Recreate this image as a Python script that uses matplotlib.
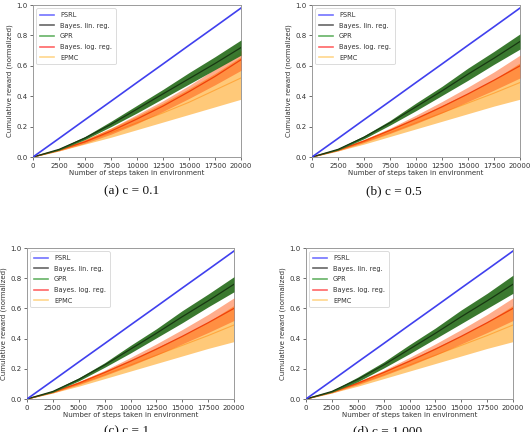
import matplotlib
matplotlib.use("Agg")
import matplotlib.pyplot as plt
from matplotlib.lines import Line2D

# ---------------- data ----------------
steps = [0, 2500, 5000, 7500, 10000, 12500, 15000, 17500, 20000]
x_ticks = [0, 2500, 5000, 7500, 10000, 12500, 15000, 17500, 20000]
y_ticks = [0.0, 0.2, 0.4, 0.6, 0.8, 1.0]
series_names = ["PSRL", "Bayes. lin. reg.", "GPR", "Bayes. log. reg.", "EPMC"]
captions = ["(a) c = 0.1", "(b) c = 0.5", "(c) c = 1", "(d) c = 1,000"]

psrl = [0, 0.122, 0.245, 0.367, 0.49, 0.612, 0.735, 0.857, 0.98]

# panel (a)
lin_mean_a = [0, 0.05, 0.125, 0.215, 0.315, 0.415, 0.515, 0.615, 0.72]
gpr_lo_a = [0, 0.045, 0.115, 0.20, 0.29, 0.385, 0.48, 0.575, 0.67]
gpr_hi_a = [0, 0.055, 0.135, 0.235, 0.34, 0.445, 0.555, 0.66, 0.77]
log_mean_a = [0, 0.045, 0.10, 0.17, 0.25, 0.335, 0.43, 0.53, 0.64]
log_lo_a = [0, 0.04, 0.09, 0.15, 0.22, 0.30, 0.385, 0.475, 0.57]
log_hi_a = [0, 0.05, 0.115, 0.19, 0.28, 0.37, 0.47, 0.58, 0.70]
epmc_mean_a = [0, 0.045, 0.10, 0.16, 0.225, 0.29, 0.36, 0.44, 0.52]
epmc_lo_a = [0, 0.04, 0.085, 0.13, 0.18, 0.23, 0.28, 0.33, 0.38]
epmc_hi_a = [0, 0.05, 0.115, 0.19, 0.27, 0.355, 0.45, 0.55, 0.66]

# panel (b)
lin_mean_b = [0, 0.05, 0.13, 0.225, 0.33, 0.435, 0.545, 0.65, 0.76]
gpr_lo_b = [0, 0.045, 0.12, 0.21, 0.305, 0.405, 0.505, 0.61, 0.71]
gpr_hi_b = [0, 0.055, 0.14, 0.24, 0.355, 0.465, 0.585, 0.695, 0.81]
log_mean_b = [0, 0.045, 0.105, 0.175, 0.25, 0.33, 0.415, 0.505, 0.60]
log_lo_b = [0, 0.04, 0.095, 0.155, 0.22, 0.29, 0.365, 0.44, 0.52]
log_hi_b = [0, 0.05, 0.115, 0.19, 0.275, 0.365, 0.46, 0.56, 0.67]
epmc_mean_b = [0, 0.045, 0.10, 0.16, 0.225, 0.29, 0.355, 0.42, 0.49]
epmc_lo_b = [0, 0.04, 0.085, 0.135, 0.185, 0.235, 0.285, 0.335, 0.38]
epmc_hi_b = [0, 0.05, 0.115, 0.185, 0.26, 0.34, 0.42, 0.51, 0.62]

# panel (c)
lin_mean_c = [0, 0.05, 0.13, 0.225, 0.33, 0.435, 0.545, 0.65, 0.76]
gpr_lo_c = [0, 0.045, 0.12, 0.21, 0.305, 0.405, 0.505, 0.61, 0.71]
gpr_hi_c = [0, 0.055, 0.14, 0.24, 0.355, 0.465, 0.585, 0.695, 0.81]
log_mean_c = [0, 0.045, 0.105, 0.175, 0.25, 0.33, 0.415, 0.505, 0.60]
log_lo_c = [0, 0.04, 0.095, 0.155, 0.22, 0.29, 0.365, 0.44, 0.52]
log_hi_c = [0, 0.05, 0.115, 0.19, 0.275, 0.365, 0.46, 0.56, 0.67]
epmc_mean_c = [0, 0.045, 0.10, 0.16, 0.225, 0.29, 0.355, 0.42, 0.49]
epmc_lo_c = [0, 0.04, 0.085, 0.135, 0.185, 0.235, 0.285, 0.335, 0.38]
epmc_hi_c = [0, 0.05, 0.115, 0.185, 0.26, 0.34, 0.42, 0.51, 0.62]

# panel (d)
lin_mean_d = [0, 0.05, 0.13, 0.225, 0.33, 0.435, 0.545, 0.65, 0.76]
gpr_lo_d = [0, 0.045, 0.115, 0.205, 0.30, 0.40, 0.50, 0.60, 0.70]
gpr_hi_d = [0, 0.055, 0.145, 0.245, 0.36, 0.47, 0.59, 0.70, 0.82]
log_mean_d = [0, 0.045, 0.105, 0.175, 0.25, 0.33, 0.415, 0.505, 0.60]
log_lo_d = [0, 0.04, 0.095, 0.155, 0.22, 0.29, 0.365, 0.44, 0.52]
log_hi_d = [0, 0.05, 0.115, 0.19, 0.275, 0.365, 0.46, 0.56, 0.67]
epmc_mean_d = [0, 0.045, 0.10, 0.16, 0.225, 0.29, 0.355, 0.42, 0.49]
epmc_lo_d = [0, 0.04, 0.085, 0.135, 0.185, 0.235, 0.285, 0.335, 0.38]
epmc_hi_d = [0, 0.05, 0.115, 0.185, 0.26, 0.34, 0.42, 0.51, 0.62]

panels = [
    (lin_mean_a, gpr_lo_a, gpr_hi_a, log_mean_a, log_lo_a, log_hi_a, epmc_mean_a, epmc_lo_a, epmc_hi_a),
    (lin_mean_b, gpr_lo_b, gpr_hi_b, log_mean_b, log_lo_b, log_hi_b, epmc_mean_b, epmc_lo_b, epmc_hi_b),
    (lin_mean_c, gpr_lo_c, gpr_hi_c, log_mean_c, log_lo_c, log_hi_c, epmc_mean_c, epmc_lo_c, epmc_hi_c),
    (lin_mean_d, gpr_lo_d, gpr_hi_d, log_mean_d, log_lo_d, log_hi_d, epmc_mean_d, epmc_lo_d, epmc_hi_d),
]

# ---------------- layout ----------------
W, H = 532, 432
axes_px = [  # left, top, right, bottom in pixels
    (33, 5, 241, 157),
    (312, 5, 520, 157),
    (27, 248, 234, 399),
    (306, 248, 513, 399),
]
caption_px = [(132, 185), (394, 185), (127, 425), (388, 425)]

fig = plt.figure(figsize=(W / 100, H / 100), dpi=100)
fig.patch.set_facecolor("white")

c_psrl = "#4040ee"
c_green_band = "#2f7224"
c_orange_band = "#ffc672"
c_red_band = "#ff4a00"
c_red_line = "#f0400a"
c_epmc_line = "#ffa030"
txt_col = "#333333"
fs = 5.0

for i, (l, t, r, b) in enumerate(axes_px):
    (lin_mean, gpr_lo, gpr_hi, log_mean, log_lo, log_hi,
     epmc_mean, epmc_lo, epmc_hi) = panels[i]
    ax = fig.add_axes([l / W, 1 - b / H, (r - l) / W, (b - t) / H])

    ax.fill_between(steps, epmc_lo, epmc_hi, color=c_orange_band, alpha=0.95, lw=0, zorder=1)
    ax.plot(steps, epmc_mean, color=c_epmc_line, lw=0.8, alpha=0.8, zorder=2)
    ax.fill_between(steps, log_lo, log_hi, color=c_red_band, alpha=0.45, lw=0, zorder=3)
    ax.plot(steps, log_mean, color=c_red_line, lw=0.9, zorder=4)
    ax.fill_between(steps, gpr_lo, gpr_hi, color=c_green_band, alpha=0.95, lw=0, zorder=5)
    ax.plot(steps, lin_mean, color="#183812", lw=0.9, zorder=6)
    ax.plot(steps, psrl, color=c_psrl, lw=1.2, zorder=7)

    ax.set_xlim(0, 20000)
    ax.set_ylim(0, 1.0)
    ax.set_xticks(x_ticks)
    ax.set_yticks(y_ticks)
    ax.set_yticklabels([f"{v:.1f}" for v in y_ticks])
    ax.tick_params(labelsize=fs, colors=txt_col, length=2.5, width=0.5, pad=1.5)
    for sp in ax.spines.values():
        sp.set_color("#9a9a9a")
        sp.set_linewidth(0.7)
    ax.set_xlabel("Number of steps taken in environment", fontsize=fs, color=txt_col, labelpad=1)
    ax.set_ylabel("Cumulative reward (normalized)", fontsize=fs, color=txt_col, labelpad=2)

    handles = [
        Line2D([], [], color="blue", alpha=0.55, lw=1.2),
        Line2D([], [], color="black", alpha=0.6, lw=1.2),
        Line2D([], [], color="green", alpha=0.6, lw=1.2),
        Line2D([], [], color="red", alpha=0.6, lw=1.2),
        Line2D([], [], color="orange", alpha=0.45, lw=1.2),
    ]
    leg = ax.legend(handles, series_names, loc="upper left", fontsize=4.8,
                    frameon=True, handlelength=2.1, borderpad=0.55,
                    labelspacing=0.7, handletextpad=0.9, borderaxespad=0.5)
    leg.get_frame().set_edgecolor("#cccccc")
    leg.get_frame().set_linewidth(0.6)
    for t_ in leg.get_texts():
        t_.set_color(txt_col)

    cx, cy = caption_px[i]
    fig.text(cx / W, 1 - cy / H, captions[i], ha="center", va="top",
             fontsize=9.5, family="Liberation Serif", color="#111111")

fig.savefig("out.png", dpi=100)
